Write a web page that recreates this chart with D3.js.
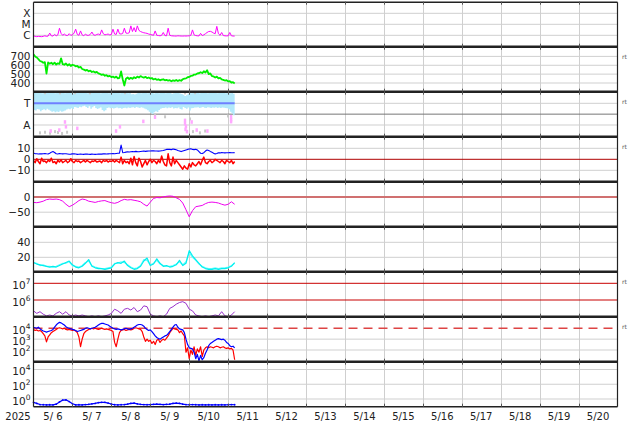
<!DOCTYPE html>
<html><head><meta charset="utf-8">
<script src="https://cdn.jsdelivr.net/npm/d3@7"></script>
<style>body{margin:0;background:#fff}svg{display:block}text{font-family:"DejaVu Sans",sans-serif}</style>
</head><body><svg id="c" width="634" height="424"></svg>
<script>
// ---------------- data ----------------
const yearLabel = "2025";
const dayLabels = ["5/ 6","5/ 7","5/ 8","5/ 9","5/10","5/11","5/12","5/13","5/14","5/15","5/16","5/17","5/18","5/19","5/20"];
const xrayLabels = [[100,"X"],[10,"M"],[1,"C"]];
const windTicks = [700,600,500,400];
const sectorLabels = [[270,"T"],[90,"A"]];
const bTicks = [10,0,-10];
const dstTicks = [0,-50];
const kTicks = [40,20];
const elecTicks = [7,6];
const protTicks = [4,3,2];
const lowTicks = [4,2,0];
const rtPanels = [1,2,3,6,7];

// hourly series (from 5/6 00:00 UT)
const xray = [0.9,0.8,0.75,0.8,0.78,0.75,0.8,0.9,0.8,0.85,
1.6,0.9,0.85,1.2,0.9,1.1,4.4,1.5,1.0,1.3,
1.0,0.95,1.4,1.0,1.1,1.6,3.6,1.2,1.0,2.5,
1.1,0.9,1.3,1.0,1.0,1.2,2.0,1.1,1.0,1.2,
1.3,1.1,3.1,1.4,1.1,1.2,1.3,1.1,1.2,3.6,
1.3,1.2,3.6,1.4,1.3,1.5,4.4,1.6,1.5,1.7,
7.2,2.2,5.0,2.0,7.2,2.8,2.2,1.9,1.7,1.6,
1.5,1.3,1.2,1.1,1.0,2.5,1.0,0.95,0.9,1.0,
1.8,0.95,0.9,4.4,1.0,0.9,0.88,0.86,0.85,0.9,
0.88,0.86,0.85,0.87,0.86,0.88,0.9,1.0,3.1,1.1,
0.95,0.9,0.88,1.5,0.95,1.1,1.4,1.8,2.2,2.3,
2.0,1.6,1.4,6.5,1.4,1.0,1.8,0.95,0.9,0.88,
0.9,1.8,0.9,0.86,0.85];
const windSpeed = [722,700,688,670,648,642,628,636,505,632,
618,628,612,630,608,622,615,678,612,606,
620,598,612,592,606,600,588,592,575,582,
558,552,540,548,532,540,524,530,518,525,
508,502,492,498,482,488,474,480,466,472,
460,472,452,458,530,442,372,448,462,445,
458,448,465,455,472,462,478,468,460,470,
455,462,450,456,440,448,436,442,430,438,
442,430,436,426,432,420,430,424,434,422,
432,425,442,450,452,465,468,480,482,495,
496,508,510,522,512,532,518,545,500,508,
478,474,462,472,452,458,440,436,428,432,
418,420,405,410,395];
const phiHigh = [356,357,355,356,357,354,356,357,355,356,
357,355,356,354,357,356,355,357,356,354,
356,357,355,356,354,357,356,355,357,356,
355,356,357,354,356,355,357,356,355,357,
356,354,357,355,356,357,354,356,357,355,
356,357,355,354,356,357,355,356,354,357,
345,348,342,350,355,356,354,357,355,356,
354,356,355,357,352,356,355,354,357,355,
356,354,357,355,356,350,354,356,355,357,
352,348,340,330,336,350,355,354,357,356,
355,357,354,356,355,357,356,354,355,357,
356,355,357,354,356,355,357,356,354,355,
356,354,355,350,345];
const phiLow = [215,210,222,218,205,214,220,212,225,216,
208,200,205,196,202,198,208,200,204,210,
218,225,220,228,222,240,236,230,242,238,
245,250,240,232,246,225,238,248,230,222,
228,235,215,205,212,230,235,228,232,226,
230,236,228,232,225,230,234,228,236,230,
235,238,232,240,236,230,238,234,226,220,
212,200,190,182,195,205,198,215,225,230,
232,236,228,235,230,238,226,232,228,235,
222,218,240,230,225,235,210,228,232,236,
235,238,230,236,240,234,232,238,235,230,
236,234,238,232,235,230,236,233,230,228,
220,200,185,170,210];
const sectorHours = [0,124];
const sectorValue = ["T","T"];
const pinkHours = [10.6,15.9,19.4,20,27,50.9,53.3,67.7,74.9,93.4,93.4,94,93.7,94.6,97.5,100.6,107.2,121.8,121.8,121.8];
const pinkPhi = [40,48,115,75,62,40,75,120,155,128,102,78,54,35,115,48,40,158,134,118];
const grayHours = [4,7.1,10.2,13.3,15.1,17.6,20.7,98.3,102.6,105.8,74.9,81.1,96.5,119.9,7.1,16.3,25.6,34.8,56.4,93.4,99.6];
const grayPhi = [25,30,22,35,28,20,30,35,25,40,173,158,140,165,358,357,358,357,358,357,358];
const bt = [5.5,5.2,5.0,4.8,5.0,4.9,5.1,5.3,5.0,4.8,
5.5,6.5,7.0,6.2,5.0,4.8,5.2,5.0,4.9,5.1,
5.0,4.8,4.6,4.7,4.9,5.0,4.8,4.5,4.6,4.7,
4.6,4.5,4.8,4.7,4.6,4.5,4.7,4.6,4.5,4.6,
4.7,4.8,4.7,4.9,5.0,4.8,4.9,5.0,5.1,5.2,
5.0,5.3,5.5,5.6,13.0,6.0,6.2,6.5,6.8,6.6,
6.9,7.0,6.8,7.2,7.0,6.9,7.1,7.3,7.5,7.2,
7.4,7.6,7.5,7.7,7.8,7.6,7.5,7.4,7.6,7.8,
8.0,8.5,9.0,9.2,9.0,8.8,9.4,9.0,8.6,8.0,
7.6,7.0,7.5,8.0,8.5,9.0,9.3,9.5,9.0,8.8,
9.2,8.5,7.0,5.5,5.2,6.0,7.5,8.5,8.0,7.2,
6.5,5.5,4.9,5.2,6.0,5.8,6.2,6.0,5.8,5.9,
6.0,6.2,5.9,6.0,6.1];
const bz = [-1,-3,0.5,-2,-4,1,-2,-1.5,-3,-1,
-2,1,-3,-2,-4,-1,-2.5,-0.5,-3,-2,
-1,-3,-2,0.5,-2,-3,-1,-2,-1.5,-3,
-2,-1,-2.5,-1,-2,-3,-1.5,-2,-1,-2.5,
-2,-1.5,-3,-1,-2,-1,-2.5,-1.5,-2,-1,
-2.5,-1,-2,-3,2,-4,-1,-3,-2,-4,
1,-5,2.5,-3,-6,1,-2,-7,-4,-1,
-5,-2,0,-3,-1,-2,-4,-1,-3,3,
-2,-5,-6,5,-3,-6,2,-4,-1,-3,
-5,-7,-9,-6,-8,-9,-4,-7,-3,-5,
-6,-4,-2,-5,-1,2,-3,-4,-2,-1,
-3,-2,0,-1,-2,-3,-1,-2,-4,-1,
-2,-3,-1,-4,-2];
const protRedLog = [3.9,3.8,3.85,3.75,3.8,3.7,3.5,3.3,2.75,3.2,
3.4,3.6,3.7,3.8,3.9,4.0,4.05,4.0,3.95,4.0,
3.9,3.85,3.9,3.85,3.8,3.85,3.75,3.6,3.2,2.3,
3.0,3.5,3.7,3.8,3.9,3.95,4.0,3.95,4.0,3.95,
3.9,3.95,4.0,3.95,3.9,3.95,3.9,3.85,3.8,3.7,
2.7,2.3,3.0,3.6,3.8,3.85,3.9,3.8,3.85,3.9,
3.85,3.9,4.0,4.05,4.0,3.95,3.9,3.7,3.2,2.8,
3.0,2.8,2.9,2.6,2.8,2.5,2.9,3.0,2.7,2.9,
3.0,2.9,3.1,3.3,3.6,3.8,4.0,3.95,3.9,3.85,
3.6,3.75,3.5,3.3,1.8,2.2,1.2,2.0,1.6,2.3,
1.5,2.1,1.8,2.3,1.4,2.0,2.2,2.3,2.2,2.3,
2.25,2.2,2.3,2.35,2.3,2.2,2.25,2.3,2.2,2.15,
2.2,2.1,2.15,2.0,1.1];
const protBlueLog = [4.1,4.05,4.0,4.1,3.95,3.85,3.75,3.7,3.65,3.7,
3.75,3.8,3.9,4.1,4.3,4.45,4.55,4.5,4.4,4.3,
4.15,4.05,4.0,3.95,3.9,3.85,3.8,3.7,3.75,3.8,
3.85,3.9,4.0,4.05,4.0,3.95,4.0,4.05,4.1,4.2,
4.3,4.4,4.45,4.45,4.4,4.35,4.3,4.2,4.1,4.0,
3.95,3.9,3.95,3.9,3.85,3.9,3.95,4.0,3.95,3.9,
3.95,4.0,4.1,4.2,4.3,4.35,4.35,4.3,4.2,4.0,
3.9,3.8,3.85,3.7,3.5,3.3,3.15,3.05,3.0,3.1,
3.2,3.3,3.35,3.5,3.7,3.9,4.1,4.3,4.35,4.1,
3.95,3.9,3.85,3.6,3.0,2.5,2.2,2.15,2.1,1.8,
1.2,1.6,1.0,1.5,1.1,1.3,1.7,2.0,2.4,2.6,
2.7,2.8,2.9,3.0,3.05,3.0,2.95,3.0,2.9,2.7,
2.6,2.4,2.3,2.35,2.2];

// 2-hourly series
const dst = [-18,-19,-17,-14,-9,-7,-8,-7,-9,-14,
-24,-32,-27,-20,-12,-7,-9,-14,-16,-18,
-15,-13,-12,-16,-19,-21,-18,-12,-8,-10,
-9,-11,-13,-16,-24,-30,-17,-5,-2,-3,
0,2,3,2,-3,-8,-20,-42,-65,-45,
-32,-30,-28,-22,-18,-17,-18,-20,-24,-27,
-24,-16,-24];
const cyanA = [13,11,10,9,8,7,8,7,9,11,
13,15,10,7,6,8,12,17,8,6,
5,5,4,5,6,11,13,12,15,9,
6,4,5,8,15,19,9,11,18,12,
8,9,7,8,10,16,9,12,29,22,
17,12,7,5,4,4,5,4,5,5,
6,8,13];
const cyanB = [13,12,9,10,8,8,7,8,10,12,
12,14,9,8,7,9,13,15,9,7,
6,5,5,6,7,12,12,14,13,10,
7,5,6,9,17,16,10,12,16,11,
9,8,8,9,11,14,10,14,26,20,
16,11,8,6,5,5,6,5,6,6,
7,9,12];
const elecLog = [5.35,5.2,5.3,5.15,5.05,5.1,5.05,5.2,5.3,5.15,
5.3,5.1,5.05,5.1,5.05,5.1,5.05,5.0,5.05,5.0,
5.05,5.0,5.05,5.1,5.2,5.45,5.35,5.2,5.45,5.5,
5.4,5.55,5.3,5.4,5.65,5.6,5.15,5.05,5.0,5.05,
5.0,5.15,5.5,5.6,5.75,5.85,5.9,5.8,5.45,5.35,
5.1,5.05,5.0,5.05,5.0,5.05,5.1,5.05,5.3,5.05,
5.0,5.1,5.3];
const lowLog = [-0.45,-0.6,-0.75,-0.78,-0.8,-0.78,-0.8,-0.7,-0.4,-0.15,
-0.12,-0.35,-0.65,-0.8,-0.78,-0.8,-0.75,-0.72,-0.65,-0.6,
-0.5,-0.45,-0.45,-0.55,-0.7,-0.78,-0.8,-0.78,-0.75,-0.7,
-0.6,-0.55,-0.65,-0.72,-0.75,-0.78,-0.75,-0.72,-0.7,-0.72,
-0.75,-0.72,-0.7,-0.6,-0.55,-0.6,-0.7,-0.75,-0.78,-0.76,
-0.78,-0.8,-0.78,-0.8,-0.78,-0.8,-0.78,-0.8,-0.78,-0.8,
-0.78,-0.76,-0.78];

// ---------------- layout ----------------
const svg = d3.select("#c");
const L = 33.5, R = 617.5;
const t0 = Date.UTC(2025,4,6), t1 = Date.UTC(2025,4,21), HOUR = 3600e3;
const x = d3.scaleUtc().domain([new Date(t0), new Date(t1)]).range([L, R]);
const hourT = h => new Date(t0 + h*HOUR);
const hourly = d3.range(xray.length).map(hourT);
const twoHourly = d3.range(dst.length).map(i => hourT(i*2));
const bounds = d3.range(10).map(k => 1.7 + 45*k);
const panelTop = k => bounds[k], panelBot = k => bounds[k+1];

function anchored(kind, v1, y1, v2, y2, k) {
  const s = (kind === "log" ? d3.scaleLog() : d3.scaleLinear()).domain([v1, v2]).range([y1, y2]);
  return s.copy().domain([s.invert(panelBot(k)), s.invert(panelTop(k))]).range([panelBot(k), panelTop(k)]);
}
const yX = anchored("log", 1, 35.3, 100, 13.3, 0);
const yV = anchored("lin", 400, 83, 700, 56.4, 1);
const yP = anchored("lin", 270, 103.3, 90, 125, 2);
const yB = anchored("lin", 0, 159.3, 10, 148.3, 3);
const yD = anchored("lin", 0, 196.9, -50, 212.2, 4);
const yK = anchored("lin", 20, 257.3, 40, 242.3, 5);
const yE = anchored("log", 1e6, 300, 1e7, 283.3, 6);
const yF = anchored("log", 1e4, 328.3, 1e2, 350, 7);
const yG = anchored("log", 1, 399, 1e4, 369.5, 8);

const defs = svg.append("defs");
d3.range(9).forEach(k => defs.append("clipPath").attr("id","cp"+k).append("rect")
  .attr("x", L).attr("y", panelTop(k)).attr("width", R-L).attr("height", panelBot(k)-panelTop(k)));

const grid = svg.append("g").attr("stroke","#cfcfcf").attr("stroke-width",1);
// vertical day grid
d3.range(1,15).forEach(d => {
  const xx = Math.round(x(new Date(t0 + d*24*HOUR))) + 0.5;
  grid.append("line").attr("x1",xx).attr("x2",xx).attr("y1",bounds[0]).attr("y2",bounds[9]);
});
function hgrid(scale, vals) {
  vals.forEach(v => { const yy = scale(v);
    grid.append("line").attr("x1",L).attr("x2",R).attr("y1",yy).attr("y2",yy); });
}
hgrid(yX, xrayLabels.map(d=>d[0]));
hgrid(yV, windTicks);
hgrid(yP, sectorLabels.map(d=>d[0]));
hgrid(yB, [10,-10]);
hgrid(yD, [-50]);
hgrid(yK, kTicks);
hgrid(yF, [1e3,1e2]);
hgrid(yG, lowTicks.map(e=>Math.pow(10,e)));

// reference lines
const ref = svg.append("g");
function hline(yy, color, w, dash) {
  const l = ref.append("line").attr("x1",L).attr("x2",R).attr("y1",yy).attr("y2",yy)
    .attr("stroke",color).attr("stroke-width",w);
  if (dash) l.attr("stroke-dasharray",dash);
}
hline(yP(180), "#777", 1);
hline(yB(0), "#b00000", 1);
hline(yD(0), "#d07070", 2);
hline(yE(1e7), "#c80000", 1);
hline(yE(1e6), "#c80000", 1);
hline(yF(1e4), "#dd4444", 1.5, "9,6");

// data
function drawLine(k, times, vals, yScale, color, w) {
  const ln = d3.line().x((d,i)=>x(times[i])).y(d=>yScale(d));
  svg.append("path").attr("clip-path","url(#cp"+k+")").datum(vals).attr("d",ln)
    .attr("fill","none").attr("stroke",color).attr("stroke-width",w).attr("stroke-linejoin","round");
}
const pow10 = a => a.map(v => Math.pow(10, v));

drawLine(0, hourly, xray, yX, "#ff00ff", 1);
drawLine(1, hourly, windSpeed, yV, "#00ee00", 1.8);

// sector panel
const band = d3.area().x((d,i)=>x(hourly[i])).y0((d,i)=>yP(phiLow[i])).y1((d,i)=>yP(phiHigh[i])).curve(d3.curveStepAfter);
svg.append("path").attr("clip-path","url(#cp2)").datum(phiLow).attr("d",band).attr("fill","#b3e9fb");
svg.append("g").attr("clip-path","url(#cp2)").selectAll("rect.g").data(grayHours).join("rect")
  .attr("x",(d)=>x(hourT(d))-1).attr("y",(d,i)=>yP(grayPhi[i])-1.5).attr("width",2).attr("height",3).attr("fill","#c9c9c9");
svg.append("g").attr("clip-path","url(#cp2)").selectAll("rect.p").data(pinkHours).join("rect")
  .attr("x",(d)=>x(hourT(d))-1.2).attr("y",(d,i)=>yP(pinkPhi[i])-1.8).attr("width",2.4).attr("height",3.6).attr("fill","#ffa8ff");
const sectorAngle = {T:270, A:90};
svg.append("path").datum(sectorHours).attr("d", d3.line().x(d=>x(hourT(d))).y((d,i)=>yP(sectorAngle[sectorValue[i]])))
  .attr("stroke","#6f80ff").attr("stroke-width",2).attr("fill","none");

drawLine(3, hourly, bt, yB, "#0000ff", 1.1);
drawLine(3, hourly, bz, yB, "#ff0000", 1.5);
drawLine(4, twoHourly, dst, yD, "#ee00ee", 1);
drawLine(5, twoHourly, cyanB, yK, "#66ffff", 1.2);
drawLine(5, twoHourly, cyanA, yK, "#00eeee", 1.2);
drawLine(6, twoHourly, pow10(elecLog), yE, "#9933cc", 1);
drawLine(7, hourly, pow10(protRedLog), yF, "#ff0000", 1.2);
drawLine(7, hourly, pow10(protBlueLog), yF, "#0000ff", 1.2);
drawLine(7, hourly, pow10(protRedLog).map((v,i)=> i>=94 ? v : NaN).map(v=>v), yF, "#ff0000", 0);
drawLine(8, twoHourly, pow10(lowLog), yG, "#0000ff", 1.2);
svg.append("g").selectAll("circle").data(lowLog).join("circle")
  .attr("cx",(d,i)=>x(twoHourly[i])).attr("cy",d=>yG(Math.pow(10,d))).attr("r",0.9).attr("fill","#0000ff");

// panel borders
const frame = svg.append("g");
frame.append("line").attr("x1",L).attr("x2",R).attr("y1",2.2).attr("y2",2.2).attr("stroke","#222").attr("stroke-width",1.5);
d3.range(1,9).forEach(k => frame.append("line").attr("x1",L).attr("x2",R).attr("y1",bounds[k]).attr("y2",bounds[k])
  .attr("stroke","#222").attr("stroke-width",2.6));
frame.append("line").attr("x1",L).attr("x2",R).attr("y1",bounds[9]).attr("y2",bounds[9]).attr("stroke","#222").attr("stroke-width",1.6);
frame.append("line").attr("x1",L).attr("x2",L).attr("y1",2.2).attr("y2",bounds[9]).attr("stroke","#222").attr("stroke-width",1.2);
frame.append("line").attr("x1",R).attr("x2",R).attr("y1",2.2).attr("y2",bounds[9]).attr("stroke","#222").attr("stroke-width",1.2);
// small day ticks on panel boundaries
d3.range(1,15).forEach(d => {
  const xx = Math.round(x(new Date(t0 + d*24*HOUR))) + 0.5;
  d3.range(0,9).forEach(k => {
    frame.append("line").attr("x1",xx).attr("x2",xx).attr("y1",bounds[k]).attr("y2",bounds[k]+3).attr("stroke","#555");
    frame.append("line").attr("x1",xx).attr("x2",xx).attr("y1",bounds[k+1]-3).attr("y2",bounds[k+1]).attr("stroke","#555");
  });
});

// labels
const lab = svg.append("g").attr("font-size","10.5px").attr("fill","#222");
function tlabel(yy, txt) {
  lab.append("text").attr("x",30.5).attr("y",yy).attr("text-anchor","end").attr("dominant-baseline","central").text(txt);
}
function slabel(yy, exp) {
  const t = lab.append("text").attr("x",30.5).attr("y",yy+1.5).attr("text-anchor","end").attr("dominant-baseline","central");
  t.append("tspan").text("10");
  t.append("tspan").attr("dy",-4).attr("font-size","7.5px").text(exp);
}
xrayLabels.forEach(d => tlabel(yX(d[0]), d[1]));
windTicks.forEach(v => tlabel(yV(v), v));
sectorLabels.forEach(d => tlabel(yP(d[0]), d[1]));
bTicks.forEach(v => tlabel(yB(v), v < 0 ? "\u2212" + (-v) : v));
dstTicks.forEach(v => tlabel(yD(v), v < 0 ? "\u2212" + (-v) : v));
kTicks.forEach(v => tlabel(yK(v), v));
elecTicks.forEach(e => slabel(yE(Math.pow(10,e)), e));
protTicks.forEach(e => slabel(yF(Math.pow(10,e)), e));
lowTicks.forEach(e => slabel(yG(Math.pow(10,e)), e));

const xl = svg.append("g").attr("font-size","10px").attr("fill","#222").attr("text-anchor","middle");
dayLabels.forEach((s,d) => xl.append("text").attr("x", x(new Date(t0 + (d+0.5)*24*HOUR))).attr("y",420).text(s));
xl.append("text").attr("x",18).attr("y",420).text(yearLabel);

const rt = svg.append("g").attr("font-size","6px").attr("fill","#555");
rtPanels.forEach(k => rt.append("text").attr("x",622).attr("y",bounds[k]+12).text("rt"));
</script></body></html>
